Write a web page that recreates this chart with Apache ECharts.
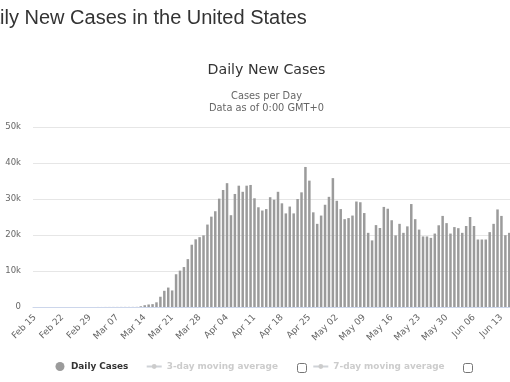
<!DOCTYPE html>
<html>
<head>
<meta charset="utf-8">
<script src="https://cdn.jsdelivr.net/npm/echarts@6/dist/echarts.min.js"></script>
<style>
html,body{margin:0;padding:0;overflow:hidden;background:#fff;width:510px;height:382px;}
#chart{width:533px;height:382px;}
</style>
</head>
<body>
<div id="chart"></div>
<script>
// Category spans (month, first day, last day)
const monthSpans = [['Feb',15,29],['Mar',1,31],['Apr',1,30],['May',1,31],['Jun',1,18]];
// Daily new cases per month
const febCases = [0,0,0,0,0,0,1,0,0,0,0,0,1,2,6];
const marCases = [8,12,10,14,18,20,22,25,28,30,32,35,
  200,500,700,800,1300,2850,4500,5400,4600,9100,10100,11100,13300,17300,18800,19400,19900,22900,25100];
const aprCases = [26600,30100,32500,34400,25500,31400,33700,32000,33700,33900,30200,27700,26800,27200,30500,
  29800,32000,28800,26000,27900,26000,30000,31850,38900,35100,26300,23100,25400,28400,30600];
const mayCases = [35800,29500,27200,24400,24700,25400,29300,29100,26100,20600,18500,22750,21950,27800,27300,
  24100,19900,23100,20600,22400,28600,24400,21500,19600,19600,19200,20400,22700,25300,23300,20400];
const junCases = [22200,21900,20600,22500,25000,22500,18750,18750,18750,20800,23100,27100,25300,19950,20600,null,null,null];
const yTicks = [0,10000,20000,30000,40000,50000];

const categories = [];
monthSpans.forEach(([m,a,b]) => { for (let d=a; d<=b; d++) categories.push(m + ' ' + String(d).padStart(2,'0')); });
const dailyCases = [].concat(febCases, marCases, aprCases, mayCases, junCases);

const chart = echarts.init(document.getElementById('chart'), null, {renderer:'canvas'});
const F = 'DejaVu Sans';
chart.setOption({
  animation: false,
  title: [
    {text:'Daily New Cases in the United States', left:-25.5, top:8.5, padding:0,
     textStyle:{fontFamily:'Liberation Sans', fontSize:20, fontWeight:'normal', color:'#333'}},
    {text:'Daily New Cases', left:'center', top:63.5, padding:0,
     textStyle:{fontFamily:F, fontSize:14.2, fontWeight:'normal', color:'#333'}},
    {text:'Cases per Day', left:'center', top:91.5, padding:0,
     textStyle:{fontFamily:F, fontSize:9.8, fontWeight:'normal', color:'#666'}},
    {text:'Data as of 0:00 GMT+0', left:'center', top:103, padding:0,
     textStyle:{fontFamily:F, fontSize:9.8, fontWeight:'normal', color:'#666'}}
  ],
  legend: [
    {data:['Daily Cases'], left:55.5, top:362, padding:0, icon:'circle', itemWidth:12, itemHeight:9,
     textStyle:{fontFamily:F, fontSize:8.9, fontWeight:'bold', color:'#333'}},
    {data:['3-day moving average'], left:145.7, top:362, padding:0, itemWidth:15, itemHeight:6,
     selected:{'3-day moving average':false}, inactiveColor:'#ccc',
     textStyle:{fontFamily:F, fontSize:8.9, fontWeight:'bold', color:'#333'}},
    {data:['7-day moving average'], left:312.3, top:362, padding:0, itemWidth:15, itemHeight:6,
     selected:{'7-day moving average':false}, inactiveColor:'#ccc',
     textStyle:{fontFamily:F, fontSize:8.9, fontWeight:'bold', color:'#333'}}
  ],
  graphic: [
    {type:'rect', shape:{x:297.5, y:363.5, width:9, height:9, r:2}, style:{fill:'#fff', stroke:'#767676', lineWidth:1}},
    {type:'rect', shape:{x:463.5, y:363.5, width:9, height:9, r:2}, style:{fill:'#fff', stroke:'#767676', lineWidth:1}}
  ],
  grid: {left:33, top:127, right:10, bottom:75, containLabel:false},
  xAxis: {
    type:'category', data:categories, boundaryGap:true,
    axisLine:{show:true, lineStyle:{color:'#ccd6eb', width:1}},
    axisTick:{show:false},
    axisLabel:{interval:6, rotate:45, margin:9, color:'#666', fontFamily:F, fontSize:9}
  },
  yAxis: {
    type:'value', min:0, max:50000, interval:10000,
    axisLine:{show:false}, axisTick:{show:false},
    splitLine:{lineStyle:{color:'#e6e6e6', width:1}},
    axisLabel:{margin:12, color:'#666', fontFamily:F, fontSize:8.5,
      formatter: v => yTicks.indexOf(v) >= 0 ? (v === 0 ? '0' : (v/1000) + 'k') : ''}
  },
  series: [
    {name:'Daily Cases', type:'bar', data:dailyCases, barWidth:2.5,
     itemStyle:{color:'#9b9b9b'}},
    {name:'3-day moving average', type:'line', data:[], symbol:'circle', lineStyle:{width:1.5}, itemStyle:{color:'#888'}},
    {name:'7-day moving average', type:'line', data:[], symbol:'circle', lineStyle:{width:1.5}, itemStyle:{color:'#888'}}
  ]
});
</script>
</body>
</html>
